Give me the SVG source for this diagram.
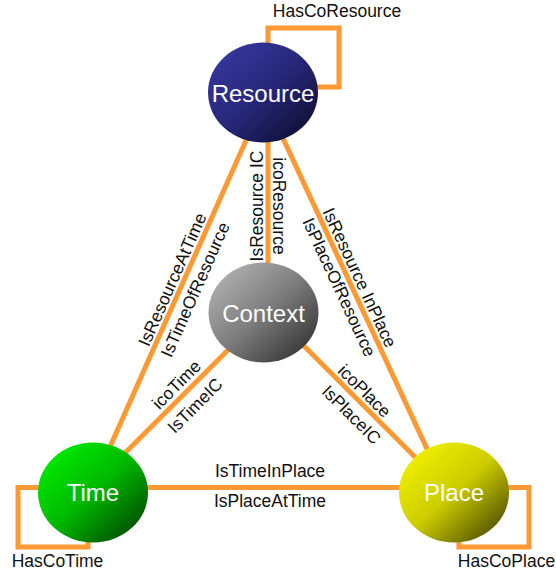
<svg xmlns="http://www.w3.org/2000/svg" width="556" height="574" viewBox="0 0 556 574">
  <defs>
    <linearGradient id="gResource" x1="0" y1="0" x2="1" y2="1">
      <stop offset="0" stop-color="#3a3aa8"/>
      <stop offset="0.5" stop-color="#27277a"/>
      <stop offset="1" stop-color="#0a0a24"/>
    </linearGradient>
    <linearGradient id="gContext" x1="0" y1="0" x2="1" y2="1">
      <stop offset="0" stop-color="#bdbdbd"/>
      <stop offset="0.5" stop-color="#7c7c7c"/>
      <stop offset="1" stop-color="#252525"/>
    </linearGradient>
    <linearGradient id="gTime" x1="0" y1="0" x2="1" y2="1">
      <stop offset="0" stop-color="#00f800"/>
      <stop offset="0.5" stop-color="#00b800"/>
      <stop offset="1" stop-color="#003300"/>
    </linearGradient>
    <linearGradient id="gPlace" x1="0" y1="0" x2="1" y2="1">
      <stop offset="0" stop-color="#fafa00"/>
      <stop offset="0.5" stop-color="#cccc00"/>
      <stop offset="1" stop-color="#333300"/>
    </linearGradient>
  </defs>
  <style>
    .edge { stroke: #ff9933; stroke-width: 5; fill: none; stroke-linejoin: miter; }
    .lbl { font-family: "Liberation Sans", Arial, sans-serif; font-size: 17.5px; fill: #111; text-anchor: middle; }
    .name { font-family: "Liberation Sans", Arial, sans-serif; font-size: 24px; fill: #ffffff; text-anchor: middle; }
  </style>

  <g id="connectors">
    <!-- triangle sides and spokes to Context -->
    <line class="edge" x1="267" y1="93" x2="90" y2="492"/>
    <line class="edge" x1="262" y1="93" x2="447" y2="492"/>
    <line class="edge" x1="268" y1="93" x2="268" y2="313"/>
    <line class="edge" x1="264" y1="314" x2="86" y2="492"/>
    <line class="edge" x1="272" y1="314" x2="450" y2="492"/>
    <line class="edge" x1="93" y1="487.5" x2="454" y2="487.5"/>
    <!-- self loops -->
    <path class="edge" d="M268,60 V28 H339 V87 H300"/>
    <path class="edge" d="M60,487.5 H18 V547 H88 V520"/>
    <path class="edge" d="M490,487.5 H529 V547 H459 V520"/>

    <!-- connector labels -->
    <text class="lbl" x="337" y="17">HasCoResource</text>
    <text class="lbl" x="57.5" y="567">HasCoTime</text>
    <text class="lbl" x="506.5" y="567">HasCoPlace</text>

    <g transform="translate(182.4,284) rotate(-66.1)">
      <text class="lbl" x="0" y="-5">IsResourceAtTime</text>
      <text class="lbl" x="0" y="20">IsTimeOfResource</text>
    </g>
    <g transform="translate(350,282) rotate(65.1)">
      <text class="lbl" x="0" y="-4.5">IsResource InPlace</text>
      <text class="lbl" x="0" y="18">IsPlaceOfResource</text>
    </g>
    <text class="lbl" transform="translate(268,206) rotate(-90)" x="0" y="-5">IsResource IC</text>
    <text class="lbl" transform="translate(268,206) rotate(90)" x="0" y="-5">icoResource</text>
    <text class="lbl" transform="translate(185,393) rotate(-45)" x="0" y="-6">icoTime</text>
    <text class="lbl" transform="translate(183.7,394.3) rotate(-45)" x="0" y="22">IsTimeIC</text>
    <text class="lbl" transform="translate(356.7,398.7) rotate(45)" x="0" y="-5">icoPlace</text>
    <text class="lbl" transform="translate(362,404) rotate(45)" x="0" y="21">IsPlaceIC</text>
    <text class="lbl" x="270" y="476.7">IsTimeInPlace</text>
    <text class="lbl" x="270" y="506.7">IsPlaceAtTime</text>
  </g>

  <g id="resource">
    <ellipse cx="263" cy="92.5" rx="55" ry="50" fill="url(#gResource)"/>
    <text class="name" x="263" y="102">Resource</text>
  </g>
  <g id="context">
    <ellipse cx="263.5" cy="312.5" rx="55" ry="50" fill="url(#gContext)"/>
    <text class="name" x="263.5" y="322">Context</text>
  </g>
  <g id="time">
    <ellipse cx="93" cy="492.5" rx="55" ry="50" fill="url(#gTime)"/>
    <text class="name" x="93" y="500.5">Time</text>
  </g>
  <g id="place">
    <ellipse cx="454" cy="492.5" rx="55" ry="50" fill="url(#gPlace)"/>
    <text class="name" x="454" y="500.5">Place</text>
  </g>
</svg>
